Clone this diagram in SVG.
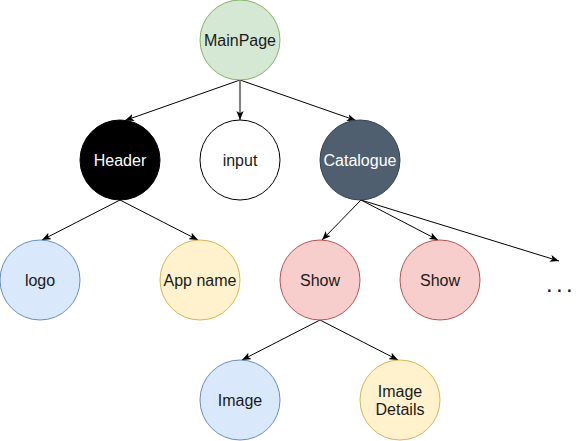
<svg xmlns="http://www.w3.org/2000/svg" width="581" height="441" viewBox="0 0 581 441">
<style>
text{font-family:"Liberation Sans",Arial,Helvetica,sans-serif;font-size:16px;text-anchor:middle;fill:#1a1a1a}
.w{fill:#ffffff}
.e{stroke:#000;stroke-width:1;fill:none;marker-end:url(#arr)}
</style>
<defs>
<marker id="arr" viewBox="0 0 10 8" refX="10" refY="4" markerWidth="9" markerHeight="7.5" markerUnits="userSpaceOnUse" orient="auto">
<path d="M0,0 L10,4 L0,8 L2.5,4 z" fill="#000"/>
</marker>
</defs>
<rect width="581" height="441" fill="#ffffff"/>
<g id="connectors">
<line class="e" x1="240" y1="80" x2="125" y2="120.5"/>
<line class="e" x1="240" y1="80" x2="240" y2="120"/>
<line class="e" x1="240" y1="80" x2="356" y2="120.5"/>
<line class="e" x1="120" y1="200" x2="42" y2="240"/>
<line class="e" x1="120" y1="200" x2="198" y2="240"/>
<line class="e" x1="361" y1="200" x2="322" y2="240"/>
<line class="e" x1="361" y1="200" x2="438" y2="240"/>
<line class="e" x1="361" y1="200" x2="559" y2="261"/>
<line class="e" x1="320" y1="320" x2="242" y2="360"/>
<line class="e" x1="320" y1="320" x2="398" y2="360"/>
</g>
<g id="MainPage"><circle cx="240" cy="40" r="40" fill="#d5e8d4" stroke="#82b366"/><text x="240" y="45.5">MainPage</text></g>
<g id="Header"><circle cx="120" cy="160" r="40" fill="#000000" stroke="#000000"/><text class="w" x="120" y="165.5">Header</text></g>
<g id="input"><circle cx="240" cy="160" r="40" fill="#ffffff" stroke="#000000"/><text x="240" y="165.5">input</text></g>
<g id="Catalogue"><circle cx="360" cy="160" r="40" fill="#505f6f" stroke="#314354"/><text class="w" x="360" y="165.5">Catalogue</text></g>
<g id="logo"><circle cx="40" cy="280" r="40" fill="#dae8fc" stroke="#6c8ebf"/><text x="40" y="285.5">logo</text></g>
<g id="AppName"><circle cx="200" cy="280" r="40" fill="#fff2cc" stroke="#d6b656"/><text x="200" y="285.5">App name</text></g>
<g id="Show1"><circle cx="320" cy="280" r="40" fill="#f8cecc" stroke="#b85450"/><text x="320" y="285.5">Show</text></g>
<g id="Show2"><circle cx="440" cy="280" r="40" fill="#f8cecc" stroke="#b85450"/><text x="440" y="285.5">Show</text></g>
<g id="More"><text x="561" y="292" style="font-size:24px;letter-spacing:3.3px">...</text></g>
<g id="Image"><circle cx="240" cy="400" r="40" fill="#dae8fc" stroke="#6c8ebf"/><text x="240" y="405.5">Image</text></g>
<g id="ImageDetails"><circle cx="400" cy="400" r="40" fill="#fff2cc" stroke="#d6b656"/><text x="400" y="397">Image</text><text x="400" y="415">Details</text></g>
</svg>
